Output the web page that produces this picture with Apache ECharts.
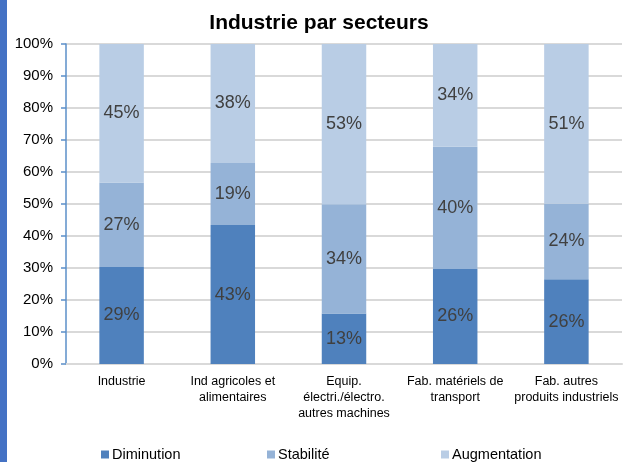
<!DOCTYPE html>
<html>
<head>
<meta charset="utf-8">
<script src="https://cdn.jsdelivr.net/npm/echarts@6/dist/echarts.min.js"></script>
<style>html,body{margin:0;padding:0;background:#fff}#c{width:623px;height:462px}</style>
</head>
<body>
<div id="c"></div>
<script>
const categories = ["Industrie", "Ind agricoles et\nalimentaires", "Equip.\nélectri./électro.\nautres machines", "Fab. matériels de\ntransport", "Fab. autres\nproduits industriels"];
const seriesNames = ["Diminution", "Stabilité", "Augmentation"];
// bar shares as drawn (percent of bar height)
const diminution = [30.3, 43.4, 15.8, 29.7, 26.5];
const stabilite = [26.4, 19.4, 34.1, 38.2, 23.6];
const augmentation = [43.3, 37.2, 50.1, 32.1, 49.9];
// labels shown on the bars
const diminutionLabels = [29, 43, 13, 26, 26];
const stabiliteLabels = [27, 19, 34, 40, 24];
const augmentationLabels = [45, 38, 53, 34, 51];
const yTicks = [0, 10, 20, 30, 40, 50, 60, 70, 80, 90, 100];

const colors = ["#4F81BD", "#95B3D7", "#B9CDE5"];
const values = [diminution, stabilite, augmentation];
const labels = [diminutionLabels, stabiliteLabels, augmentationLabels];
const font = "'Liberation Sans', Arial, sans-serif";

const chart = echarts.init(document.getElementById('c'));
const legendLefts = [96, 262, 436];
chart.setOption({
  animation: false,
  graphic: [{type: 'rect', shape: {x: 0, y: 0, width: 7, height: 462}, style: {fill: '#4472C4'}}],
  title: {
    text: 'Industrie par secteurs', left: 314, textAlign: 'center', top: 8,
    textStyle: {fontFamily: font, fontSize: 21, fontWeight: 'bold', color: '#000'}
  },
  legend: seriesNames.map((n, i) => ({
    data: [n], left: legendLefts[i], top: 442, itemWidth: 8, itemHeight: 8, icon: 'rect',
    textStyle: {fontFamily: font, fontSize: 14.5, color: '#000', padding: [0, 0, 0, -2]}
  })),
  grid: {left: 66, right: 1, top: 44, bottom: 98},
  xAxis: {
    type: 'category', data: categories,
    axisLine: {lineStyle: {color: '#D9D9D9', width: 2}},
    axisTick: {show: false},
    axisLabel: {fontFamily: font, fontSize: 12.5, color: '#000', lineHeight: 16, margin: 10, interval: 0}
  },
  yAxis: {
    type: 'value', min: yTicks[0], max: yTicks[yTicks.length - 1], interval: 10,
    axisLine: {show: true, lineStyle: {color: '#5B8FC9', width: 1.5}},
    axisTick: {show: true, length: 5, lineStyle: {color: '#5B8FC9', width: 1.5}},
    splitLine: {lineStyle: {color: '#D9D9D9', width: 2}},
    axisLabel: {fontFamily: font, fontSize: 15, color: '#000', margin: 13, formatter: '{value}%'}
  },
  series: seriesNames.map((n, i) => ({
    name: n, type: 'bar', stack: 'total', barWidth: '40%',
    itemStyle: {color: colors[i]},
    data: values[i],
    label: {
      show: true, position: 'inside', fontFamily: font, fontSize: 18, color: '#404040',
      formatter: p => labels[i][p.dataIndex] + '%'
    }
  }))
});
</script>
</body>
</html>
